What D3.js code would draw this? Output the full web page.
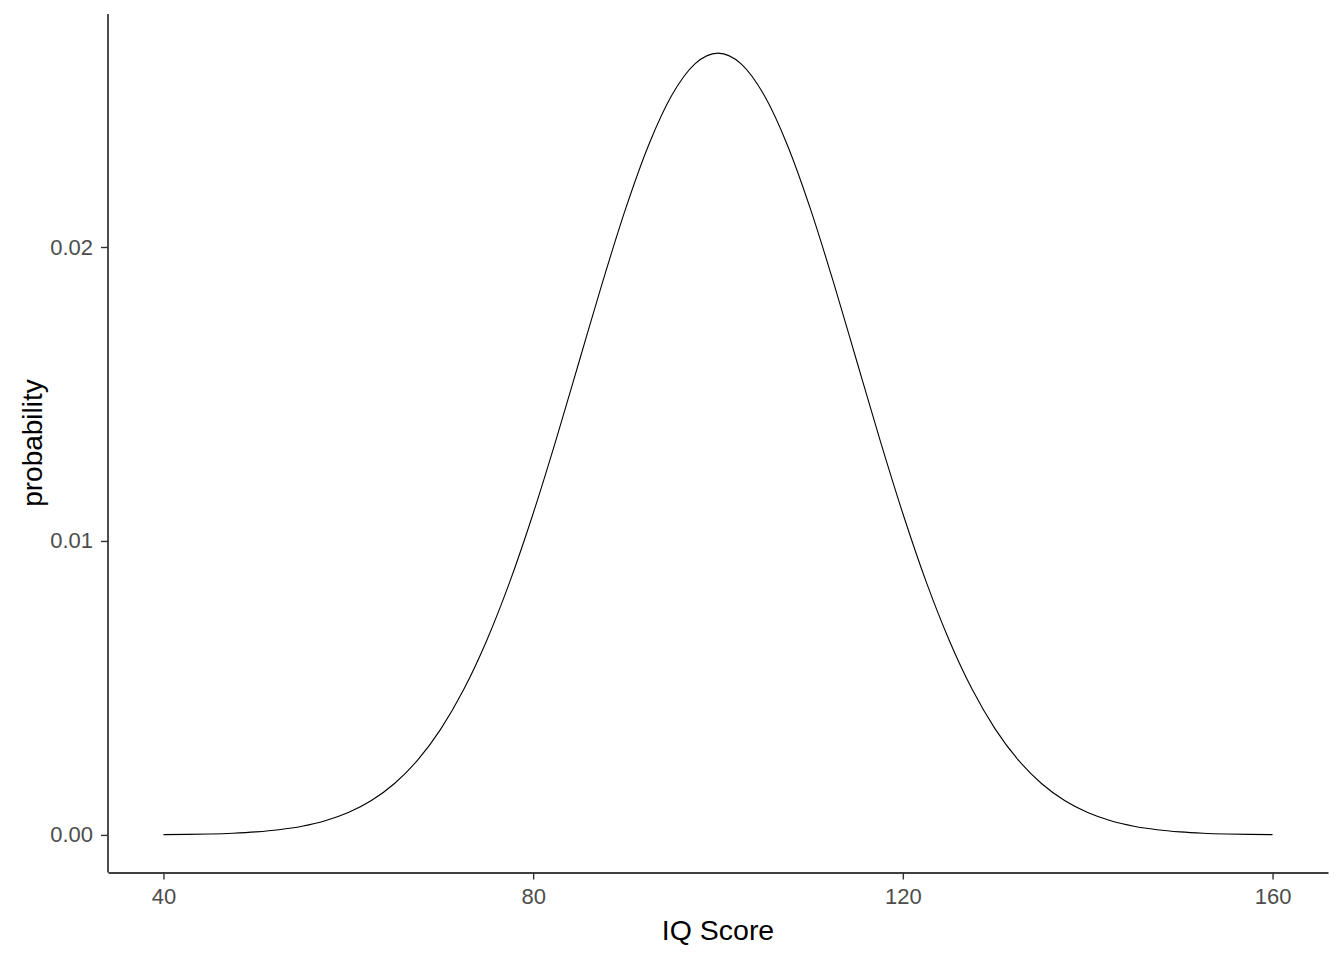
<!DOCTYPE html>
<html>
<head>
<meta charset="utf-8">
<script src="https://cdn.jsdelivr.net/npm/d3@7"></script>
<style>
  body { margin: 0; background: #fff; }
  svg text { font-family: "Liberation Sans", Arial, sans-serif; }
</style>
</head>
<body>
<svg id="chart" width="1344" height="960"></svg>
<script>
// IQ score (x) and density
const iqScores = [40, 42.5, 45, 47.5, 50, 52.5, 55, 57.5, 60, 62.5, 65, 67.5, 70, 72.5, 75, 77.5,
  80, 82.5, 85, 87.5, 90, 92.5, 95, 97.5, 100, 102.5, 105, 107.5, 110, 112.5, 115, 117.5,
  120, 122.5, 125, 127.5, 130, 132.5, 135, 137.5, 140, 142.5, 145, 147.5, 150, 152.5, 155, 157.5, 160];
const probability = [0.0000089, 0.0000171, 0.000032, 0.0000582, 0.000103, 0.000177, 0.000295, 0.00048,
  0.00076, 0.001169, 0.001748, 0.002544, 0.003599, 0.004953, 0.006633, 0.008634,
  0.010934, 0.013466, 0.016131, 0.018795, 0.021296, 0.023471, 0.025159, 0.026229,
  0.026596,
  0.026229, 0.025159, 0.023471, 0.021296, 0.018795, 0.016131, 0.013466, 0.010934,
  0.008634, 0.006633, 0.004953, 0.003599, 0.002544, 0.001748, 0.001169, 0.00076,
  0.00048, 0.000295, 0.000177, 0.000103, 0.0000582, 0.000032, 0.0000171, 0.0000089];
const xTicks = [40, 80, 120, 160];
const yTicks = [0, 0.01, 0.02];

const svg = d3.select("#chart");
const margin = { top: 14, right: 16, bottom: 86, left: 108 };
const width = 1344 - margin.left - margin.right;
const height = 960 - margin.top - margin.bottom;

// ggplot-style 5% expansion
const xMin = d3.min(iqScores), xMax = d3.max(iqScores);
const yMax = d3.max(probability);
const xPad = (xMax - xMin) * 0.05, yPad = yMax * 0.05;

const x = d3.scaleLinear().domain([xMin - xPad, xMax + xPad]).range([0, width]);
const y = d3.scaleLinear().domain([-yPad, yMax + yPad]).range([height, 0]);

const g = svg.append("g").attr("transform", `translate(${margin.left},${margin.top})`);

// curve
const data = iqScores.map((v, i) => ({ x: v, y: probability[i] }));
const line = d3.line().x(d => x(d.x)).y(d => y(d.y)).curve(d3.curveMonotoneX);
g.append("path")
  .datum(data)
  .attr("fill", "none")
  .attr("stroke", "#000")
  .attr("stroke-width", 1.1)
  .attr("d", line);

// axes (x axis line sits just above the range bottom, like the original)
const xAxis = g.append("g").attr("transform", `translate(0,${height - 1.5})`)
  .call(d3.axisBottom(x).tickValues(xTicks).tickSize(7).tickPadding(9).tickSizeOuter(0));
const yAxis = g.append("g")
  .call(d3.axisLeft(y).tickValues(yTicks).tickFormat(d3.format(".2f")).tickSize(7).tickPadding(8).tickSizeOuter(0));
yAxis.select(".domain").attr("d", `M0,0V${height - 1.5}`);

[xAxis, yAxis].forEach(a => {
  a.select(".domain").attr("stroke", "#000").attr("stroke-width", 1.4);
  a.selectAll(".tick line").attr("stroke", "#333").attr("stroke-width", 1.4);
  a.selectAll(".tick text").attr("fill", "#4d4d4d").style("font-size", "22px");
});

// axis titles
svg.append("text")
  .attr("x", margin.left + width / 2)
  .attr("y", 940)
  .attr("text-anchor", "middle")
  .attr("fill", "#000")
  .style("font-size", "28.5px")
  .text("IQ Score");

svg.append("text")
  .attr("transform", `translate(42,443) rotate(-90)`)
  .attr("text-anchor", "middle")
  .attr("fill", "#000")
  .style("font-size", "28px")
  .text("probability");
</script>
</body>
</html>
